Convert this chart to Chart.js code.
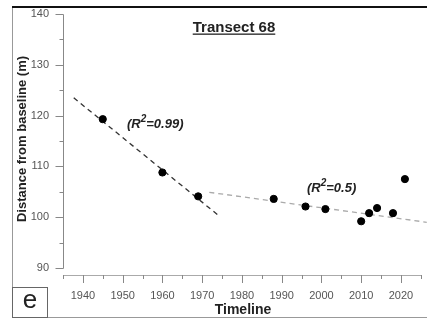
<!DOCTYPE html>
<html>
<head>
<meta charset="utf-8">
<script src="https://cdn.jsdelivr.net/npm/chart.js@4/dist/chart.umd.min.js"></script>
<style>
  html, body { margin: 0; padding: 0; background: #fff; }
  #wrap { width: 427px; height: 319px; position: relative; }
</style>
</head>
<body>
<div id="wrap"><canvas id="chart"></canvas></div>
<script>
// shoreline positions
const years = [1945, 1960, 1969, 1988, 1996, 2001, 2010, 2012, 2014, 2018, 2021];
const distances = [119.3, 108.8, 104.1, 103.6, 102.1, 101.6, 99.2, 100.8, 101.8, 100.8, 107.5];

// fitted trend lines (end points)
const earlyTrendX = [1937.7, 1974.5];
const earlyTrendY = [123.5, 100.1];
const lateTrendX = [1971.8, 2026.5];
const lateTrendY = [104.9, 99.0];

const xTicks = [1935, 1940, 1945, 1950, 1955, 1960, 1965, 1970, 1975, 1980, 1985, 1990, 1995, 2000, 2005, 2010, 2015, 2020, 2025];
const yTicks = [90, 95, 100, 105, 110, 115, 120, 125, 130, 135, 140];

const FONT = '"Liberation Sans", Arial, sans-serif';

const toPoints = (xs, ys) => xs.map((x, i) => ({ x: x, y: ys[i] }));

const noPadding = (s) => {
  s.paddingLeft = 0;
  s.paddingRight = 0;
  s.paddingTop = 0;
  s.paddingBottom = 0;
};

const decorPlugin = {
  id: 'decor',
  beforeDraw: (chart) => {
    const ctx = chart.ctx;
    ctx.save();
    // panel frame
    ctx.strokeStyle = '#999';
    ctx.lineWidth = 1;
    ctx.beginPath();
    ctx.moveTo(12.5, 7);
    ctx.lineTo(12.5, 317.5);
    ctx.lineTo(427, 317.5);
    ctx.stroke();
    ctx.strokeStyle = '#111';
    ctx.lineWidth = 2;
    ctx.beginPath();
    ctx.moveTo(12, 7);
    ctx.lineTo(427, 7);
    ctx.stroke();
    ctx.restore();
  },
  afterDraw: (chart) => {
    const ctx = chart.ctx;
    const xs = chart.scales.x;
    const ys = chart.scales.y;
    const axisX = chart.chartArea.left;
    const axisY = chart.chartArea.bottom;
    ctx.save();

    // y axis line + ticks
    ctx.strokeStyle = '#888';
    ctx.lineWidth = 1;
    ctx.beginPath();
    ctx.moveTo(axisX + 0.5, Math.round(ys.getPixelForValue(140)) + 0.5);
    ctx.lineTo(axisX + 0.5, Math.round(ys.getPixelForValue(90)) + 0.5);
    ys.ticks.forEach((t) => {
      const py = Math.round(ys.getPixelForValue(t.value)) + 0.5;
      const len = t.value % 10 === 0 ? 8 : 4;
      ctx.moveTo(axisX + 0.5, py);
      ctx.lineTo(axisX + 0.5 - len, py);
    });
    ctx.stroke();

    // x axis line + ticks
    ctx.strokeStyle = '#aaa';
    ctx.beginPath();
    ctx.moveTo(axisX, axisY + 0.5);
    ctx.lineTo(Math.round(xs.getPixelForValue(2025)) + 0.5, axisY + 0.5);
    ctx.stroke();
    ctx.strokeStyle = '#888';
    ctx.beginPath();
    xs.ticks.forEach((t) => {
      const px = Math.round(xs.getPixelForValue(t.value)) + 0.5;
      const len = t.value % 10 === 0 ? 8 : 4;
      ctx.moveTo(px, axisY);
      ctx.lineTo(px, axisY + len);
    });
    ctx.stroke();

    // title
    ctx.fillStyle = '#222';
    ctx.font = 'bold 15px ' + FONT;
    ctx.textAlign = 'center';
    ctx.textBaseline = 'alphabetic';
    const title = 'Transect 68';
    ctx.fillText(title, 234, 32);
    const tw = ctx.measureText(title).width;
    ctx.fillRect(234 - tw / 2, 33.5, tw, 1.3);

    // axis titles
    ctx.font = 'bold 14px ' + FONT;
    ctx.textBaseline = 'middle';
    ctx.fillText('Timeline', 243, 310);
    ctx.save();
    ctx.translate(22, 139);
    ctx.rotate(-Math.PI / 2);
    ctx.font = 'bold 13px ' + FONT;
    ctx.fillText('Distance from baseline (m)', 0, 0);
    ctx.restore();

    // R² labels
    const drawR2 = (x, y, value) => {
      ctx.textAlign = 'left';
      ctx.textBaseline = 'alphabetic';
      ctx.font = 'italic bold 13px ' + FONT;
      ctx.fillText('(R', x, y);
      let cx = x + ctx.measureText('(R').width;
      ctx.font = 'italic bold 10px ' + FONT;
      ctx.fillText('2', cx, y - 6);
      cx += ctx.measureText('2').width;
      ctx.font = 'italic bold 13px ' + FONT;
      ctx.fillText('=' + value + ')', cx, y);
    };
    drawR2(127, 128, '0.99');
    drawR2(307, 192, '0.5');

    // panel letter box
    ctx.fillStyle = '#fff';
    ctx.fillRect(13, 287, 35, 30);
    ctx.strokeStyle = '#666';
    ctx.lineWidth = 1;
    ctx.strokeRect(12.5, 287.5, 35, 30);
    ctx.fillStyle = '#222';
    ctx.font = '26px ' + FONT;
    ctx.textAlign = 'center';
    ctx.textBaseline = 'middle';
    ctx.fillText('e', 30, 301);

    ctx.restore();
  },
};

new Chart(document.getElementById('chart'), {
  type: 'scatter',
  data: {
    datasets: [
      {
        label: 'Observed',
        order: 0,
        data: toPoints(years, distances),
        backgroundColor: '#000',
        borderColor: '#000',
        pointRadius: 3.6,
        pointHoverRadius: 3.6,
      },
      {
        label: 'Trend 1940s-1970s',
        order: 1,
        data: toPoints(earlyTrendX, earlyTrendY),
        showLine: true,
        borderColor: '#333',
        borderWidth: 1.3,
        borderDash: [5, 4],
        pointRadius: 0,
      },
      {
        label: 'Trend 1970s-2020s',
        order: 1,
        data: toPoints(lateTrendX, lateTrendY),
        showLine: true,
        clip: false,
        borderColor: '#aaa',
        borderWidth: 1.3,
        borderDash: [5, 4],
        pointRadius: 0,
      },
    ],
  },
  plugins: [decorPlugin],
  options: {
    responsive: true,
    maintainAspectRatio: false,
    animation: false,
    layout: { padding: { top: 14, left: 0, right: 0, bottom: 0 } },
    plugins: {
      legend: { display: false },
      tooltip: { enabled: false },
    },
    scales: {
      x: {
        type: 'linear',
        min: 1935,
        max: 2025.4,
        afterBuildTicks: (s) => {
          s.ticks = xTicks.map((v) => ({ value: v }));
        },
        afterFit: (s) => {
          s.height = 44;
          noPadding(s);
        },
        grid: { display: false, drawTicks: false },
        border: { display: false },
        ticks: {
          autoSkip: false,
          maxRotation: 0,
          padding: 14,
          color: '#555',
          font: { size: 11, family: FONT },
          callback: (v) => (v % 10 === 0 && v >= 1940 ? String(v) : ''),
        },
      },
      y: {
        min: 88.62,
        max: 140,
        afterBuildTicks: (s) => {
          s.ticks = yTicks.map((v) => ({ value: v }));
        },
        afterFit: (s) => {
          s.width = 63;
          noPadding(s);
        },
        grid: { display: false, drawTicks: false },
        border: { display: false },
        ticks: {
          autoSkip: false,
          padding: 14,
          color: '#555',
          font: { size: 11, family: FONT },
          callback: (v) => (v % 10 === 0 ? String(v) : ''),
        },
      },
    },
  },
});
</script>
</body>
</html>
